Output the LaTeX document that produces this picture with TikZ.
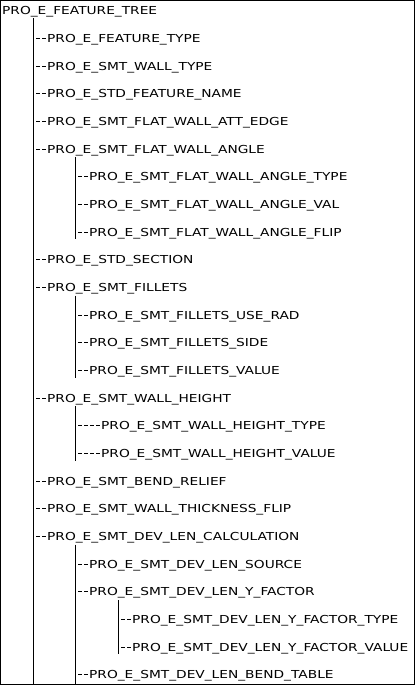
\documentclass[tikz,border=0pt]{standalone}
\usepackage{fontspec}
\newfontfamily\treefont[FakeStretch=1.25,Ligatures=NoCommon]{DejaVu Sans}
\newcommand\hy{\makebox[6pt][c]{\rule[3.6pt]{4.2pt}{0.9pt}}}
\begin{document}
\begin{tikzpicture}[x=1pt,y=-1pt,
  lbl/.style={anchor=west,inner sep=0pt,font=\treefont\fontsize{11}{11}\selectfont},
  bar/.style={draw=black,line width=1pt},
  frame/.style={draw=black,line width=1pt}]
\useasboundingbox (0,0) rectangle (416,686);
\draw[frame] (0.5,0.5) rectangle (414.5,684.5);
\def\ry#1{12+27.67*#1}
\node[lbl] (r0) at (2,{\ry{0}}) {PRO\_E\_FEATURE\_TREE};
\node[lbl] (r1) at (35,{\ry{1}}) {\hy\hy PRO\_E\_FEATURE\_TYPE};
\node[lbl] (r2) at (35,{\ry{2}}) {\hy\hy PRO\_E\_SMT\_WALL\_TYPE};
\node[lbl] (r3) at (35,{\ry{3}}) {\hy\hy PRO\_E\_STD\_FEATURE\_NAME};
\node[lbl] (r4) at (35,{\ry{4}}) {\hy\hy PRO\_E\_SMT\_FLAT\_WALL\_ATT\_EDGE};
\node[lbl] (r5) at (35,{\ry{5}}) {\hy\hy PRO\_E\_SMT\_FLAT\_WALL\_ANGLE};
\node[lbl] (r6) at (77,{\ry{6}}) {\hy\hy PRO\_E\_SMT\_FLAT\_WALL\_ANGLE\_TYPE};
\node[lbl] (r7) at (77,{\ry{7}}) {\hy\hy PRO\_E\_SMT\_FLAT\_WALL\_ANGLE\_VAL};
\node[lbl] (r8) at (77,{\ry{8}}) {\hy\hy PRO\_E\_SMT\_FLAT\_WALL\_ANGLE\_FLIP};
\node[lbl] (r9) at (35,{\ry{9}}) {\hy\hy PRO\_E\_STD\_SECTION};
\node[lbl] (r10) at (35,{\ry{10}}) {\hy\hy PRO\_E\_SMT\_FILLETS};
\node[lbl] (r11) at (77,{\ry{11}}) {\hy\hy PRO\_E\_SMT\_FILLETS\_USE\_RAD};
\node[lbl] (r12) at (77,{\ry{12}}) {\hy\hy PRO\_E\_SMT\_FILLETS\_SIDE};
\node[lbl] (r13) at (77,{\ry{13}}) {\hy\hy PRO\_E\_SMT\_FILLETS\_VALUE};
\node[lbl] (r14) at (35,{\ry{14}}) {\hy\hy PRO\_E\_SMT\_WALL\_HEIGHT};
\node[lbl] (r15) at (77,{\ry{15}}) {\hy\hy\hy\hy PRO\_E\_SMT\_WALL\_HEIGHT\_TYPE};
\node[lbl] (r16) at (77,{\ry{16}}) {\hy\hy\hy\hy PRO\_E\_SMT\_WALL\_HEIGHT\_VALUE};
\node[lbl] (r17) at (35,{\ry{17}}) {\hy\hy PRO\_E\_SMT\_BEND\_RELIEF};
\node[lbl] (r18) at (35,{\ry{18}}) {\hy\hy PRO\_E\_SMT\_WALL\_THICKNESS\_FLIP};
\node[lbl] (r19) at (35,{\ry{19}}) {\hy\hy PRO\_E\_SMT\_DEV\_LEN\_CALCULATION};
\node[lbl] (r20) at (77,{\ry{20}}) {\hy\hy PRO\_E\_SMT\_DEV\_LEN\_SOURCE};
\node[lbl] (r21) at (77,{\ry{21}}) {\hy\hy PRO\_E\_SMT\_DEV\_LEN\_Y\_FACTOR};
\node[lbl] (r22) at (120,{\ry{22}}) {\hy\hy PRO\_E\_SMT\_DEV\_LEN\_Y\_FACTOR\_TYPE};
\node[lbl] (r23) at (120,{\ry{23}}) {\hy\hy PRO\_E\_SMT\_DEV\_LEN\_Y\_FACTOR\_VALUE};
\node[lbl] (r24) at (77,{\ry{24}}) {\hy\hy PRO\_E\_SMT\_DEV\_LEN\_BEND\_TABLE};
% bar end points
\coordinate (b1t) at (33,18);
\coordinate (b1b) at (33,684);
\coordinate (b2t) at (75,{\ry{5}+7});
\coordinate (b2b) at (75,{\ry{8}+6});
\coordinate (b3t) at (75,{\ry{10}+7});
\coordinate (b3b) at (75,{\ry{13}+6});
\coordinate (b4t) at (75,{\ry{14}+7});
\coordinate (b4b) at (75,{\ry{16}+6});
\coordinate (b5t) at (75,{\ry{19}+7});
\coordinate (b5b) at (75,684);
\coordinate (b6t) at (118,{\ry{21}+7});
\coordinate (b6b) at (118,{\ry{23}+6});
\draw[bar] (b1t) -- (b1b);
\draw[bar] (b2t) -- (b2b);
\draw[bar] (b3t) -- (b3b);
\draw[bar] (b4t) -- (b4b);
\draw[bar] (b5t) -- (b5b);
\draw[bar] (b6t) -- (b6b);
\end{tikzpicture}
\end{document}
